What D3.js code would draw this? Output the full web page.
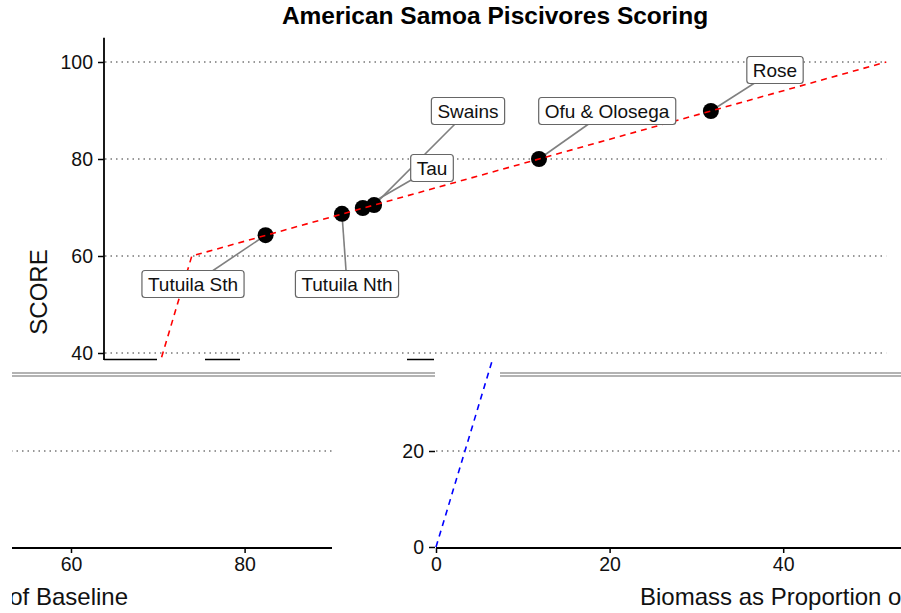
<!DOCTYPE html>
<html>
<head>
<meta charset="utf-8">
<script src="https://cdn.jsdelivr.net/npm/d3@7"></script>
<style>
  body { margin: 0; background: #fff; }
  svg { display: block; font-family: "Liberation Sans", Arial, sans-serif; }
</style>
</head>
<body>
<svg id="chart" width="901" height="613"></svg>
<script>
// ---- data ----
const title = "American Samoa Piscivores Scoring";
const sites = ["Tutuila Sth", "Tutuila Nth", "Tau", "Swains", "Ofu & Olosega", "Rose"];
const biomass = [18.5, 27.3, 29.7, 31.0, 50.0, 69.8];
const score = [64.3, 68.7, 69.9, 70.5, 80.0, 89.9];
const curveBiomass = [0, 10, 90];
const curveScore = [0, 60, 100];
const topYTicks = [40, 60, 80, 100];
const bottomYTicks = [0, 20];
const bottomXTicksRight = [0, 20, 40];
const bottomXTicksLeft = [60, 80];
const xLabel = "Biomass as Proportion of Baseline";
const yLabel = "SCORE";

// ---- layout ----
const W = 901, H = 613;
const pxPerUnit = 8.68;
// label box centres (layout, not data)
const labelPos = [[193, 284], [347, 284], [432, 168], [468, 111], [607, 111], [775, 70]];

const svg = d3.select("#chart");
const defs = svg.append("defs");
function clip(id, x, y, w, h) {
  defs.append("clipPath").attr("id", id).append("rect")
    .attr("x", x).attr("y", y).attr("width", w).attr("height", h);
}
clip("cTop", 0, 0, W, 361);
clip("cBL", 12, 362, 320, H - 362);
clip("cBR", 380, 362, W - 380, H - 362);

const gridStyle = s => s.attr("stroke", "#333").attr("stroke-width", 1).attr("stroke-dasharray", "1.5,4");
const curve = curveBiomass.map((b, i) => [b, curveScore[i]]);

// ---------- TOP PANEL ----------
const xTop = d3.scaleLinear().domain([0, 90]).range([105, 105 + 90 * pxPerUnit]);
const yTop = d3.scaleLinear().domain([40, 100]).range([353, 62]);
const topG = svg.append("g").attr("clip-path", "url(#cTop)");

// gridlines
topG.selectAll("line.grid").data(topYTicks).join("line")
  .attr("x1", 105).attr("x2", xTop(90))
  .attr("y1", d => yTop(d)).attr("y2", d => yTop(d))
  .call(gridStyle);

// y axis
const yAxisTop = d3.axisLeft(yTop).tickValues(topYTicks).tickSize(6).tickPadding(5);
const gy = topG.append("g").attr("transform", "translate(104,0)").call(yAxisTop);
gy.select(".domain").remove();
gy.selectAll(".tick line").attr("stroke", "#000").attr("stroke-width", 1.5);
gy.selectAll(".tick text").attr("font-size", 19.5).attr("fill", "#111")
  .attr("font-family", "Liberation Sans, Arial, sans-serif");
topG.append("line").attr("x1", 104).attr("x2", 104).attr("y1", yTop(105)).attr("y2", 360)
  .attr("stroke", "#000").attr("stroke-width", 1.8);

// remnants of the top panel x axis
[[104, 157], [205, 240], [407, 434]].forEach(([a, b]) => {
  topG.append("line").attr("x1", a).attr("x2", b).attr("y1", 359.5).attr("y2", 359.5)
    .attr("stroke", "#000").attr("stroke-width", 1.5);
});

// label segments
const pts = sites.map((s, i) => ({ s, b: biomass[i], v: score[i], lp: labelPos[i] }));
topG.selectAll("line.seg").data(pts).join("line")
  .attr("x1", d => xTop(d.b)).attr("y1", d => yTop(d.v))
  .attr("x2", d => d.lp[0]).attr("y2", d => d.lp[1])
  .attr("stroke", "#808080").attr("stroke-width", 1.6);

// points
topG.selectAll("circle").data(pts).join("circle")
  .attr("cx", d => xTop(d.b)).attr("cy", d => yTop(d.v)).attr("r", 8).attr("fill", "#000");

// red scoring line
topG.append("path").datum(curve)
  .attr("d", d3.line().x(d => xTop(d[0])).y(d => yTop(d[1])))
  .attr("fill", "none").attr("stroke", "#ff0000").attr("stroke-width", 1.6)
  .attr("stroke-dasharray", "6,5");

// labels
pts.forEach(d => {
  const g = topG.append("g");
  const t = g.append("text").attr("x", d.lp[0]).attr("y", d.lp[1] + 6.5)
    .attr("text-anchor", "middle").attr("font-size", 19).attr("fill", "#111").text(d.s);
  const bb = t.node().getBBox();
  g.insert("rect", "text")
    .attr("x", bb.x - 6).attr("y", d.lp[1] - 13.5)
    .attr("width", bb.width + 12).attr("height", 27)
    .attr("rx", 3).attr("fill", "#fff").attr("stroke", "#666").attr("stroke-width", 1.2);
});

// title & y label
svg.append("text").attr("x", 495).attr("y", 24).attr("text-anchor", "middle")
  .attr("font-size", 24.5).attr("font-weight", "bold").attr("fill", "#000").text(title);
svg.append("text").attr("transform", "translate(47,292) rotate(-90)")
  .attr("text-anchor", "middle").attr("font-size", 24).attr("fill", "#111").text(yLabel);

// ---------- separator double line ----------
[[12, 435], [500, W]].forEach(([a, b]) => {
  [373, 376].forEach(y => {
    svg.append("line").attr("x1", a).attr("x2", b).attr("y1", y).attr("y2", y)
      .attr("stroke", "#9a9a9a").attr("stroke-width", 1.3);
  });
});

// ---------- BOTTOM PANEL ----------
const yBot = d3.scaleLinear().domain([0, 20]).range([547, 451]);

function bottomPiece(clipId, x0, xTicks, x1, showY) {
  const g = svg.append("g").attr("clip-path", `url(#${clipId})`);
  const x = d3.scaleLinear().domain([0, 1]).range([x0, x0 + pxPerUnit]);
  const axisStart = showY ? x(0) : 0;
  g.append("line").attr("x1", axisStart).attr("x2", x1).attr("y1", yBot(20)).attr("y2", yBot(20)).call(gridStyle);
  const ax = d3.axisBottom(x).tickValues(xTicks).tickSize(5).tickPadding(4).tickFormat(d3.format("d"));
  const gx = g.append("g").attr("transform", `translate(0,${yBot(0) + 1})`).call(ax);
  gx.select(".domain").remove();
  gx.selectAll(".tick line").attr("stroke", "#000").attr("stroke-width", 1.5);
  gx.selectAll(".tick text").attr("font-size", 19.5).attr("fill", "#111")
    .attr("font-family", "Liberation Sans, Arial, sans-serif");
  g.append("line").attr("x1", axisStart).attr("x2", x1).attr("y1", yBot(0) + 1).attr("y2", yBot(0) + 1)
    .attr("stroke", "#000").attr("stroke-width", 1.8);
  if (showY) {
    const ay = d3.axisLeft(yBot).tickValues(bottomYTicks).tickSize(6).tickPadding(5);
    const gyb = g.append("g").attr("transform", `translate(${x(0) - 1},0)`).call(ay);
    gyb.select(".domain").remove();
    gyb.selectAll(".tick line").attr("stroke", "#000").attr("stroke-width", 1.5);
    gyb.selectAll(".tick text").attr("font-size", 19.5).attr("fill", "#111")
      .attr("font-family", "Liberation Sans, Arial, sans-serif");
    g.append("path").datum(curve)
      .attr("d", d3.line().x(d => x(d[0])).y(d => yBot(d[1])))
      .attr("fill", "none").attr("stroke", "#0000ff").attr("stroke-width", 1.6)
      .attr("stroke-dasharray", "6,5");
  }
  return g;
}
const bl = bottomPiece("cBL", -449.8, bottomXTicksLeft, 332, false);
bl.append("text").attr("x", 128).attr("y", 605).attr("text-anchor", "end")
  .attr("font-size", 24).attr("fill", "#111").text(xLabel);
const br = bottomPiece("cBR", 436, bottomXTicksRight, W, true);
br.append("text").attr("x", 640).attr("y", 605).attr("text-anchor", "start")
  .attr("font-size", 24).attr("fill", "#111").text(xLabel);
</script>
</body>
</html>
